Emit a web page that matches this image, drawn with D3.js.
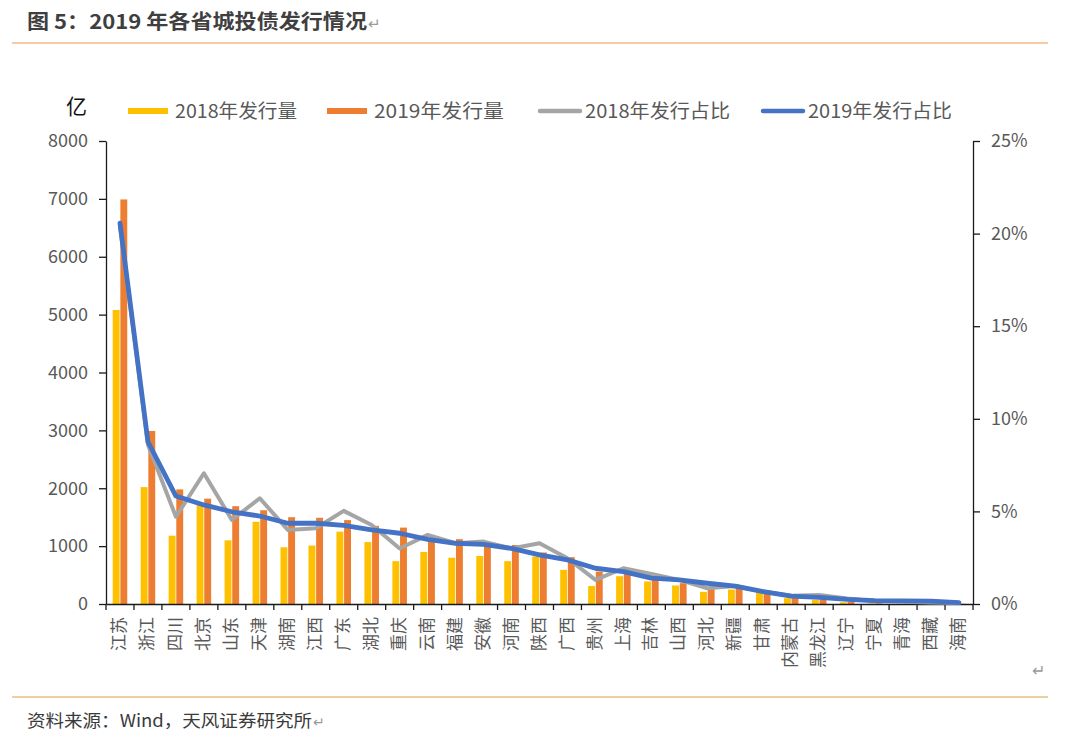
<!DOCTYPE html>
<html>
<head>
<meta charset="utf-8">
<script src="https://cdn.jsdelivr.net/npm/d3@7"></script>
<style>
  html, body { margin: 0; padding: 0; background: #fff; }
  svg { display: block; }
  text { font-family: "Noto Sans CJK SC", "Noto Sans", sans-serif; }
</style>
</head>
<body>
<svg id="chart" width="1080" height="743"></svg>
<script>
const categories = ["江苏","浙江","四川","北京","山东","天津","湖南","江西","广东","湖北","重庆","云南","福建","安徽","河南","陕西","广西","贵州","上海","吉林","山西","河北","新疆","甘肃","内蒙古","黑龙江","辽宁","宁夏","青海","西藏","海南"];
const issue2018 = [5080, 2020, 1180, 1710, 1100, 1420, 980, 1010, 1250, 1070, 740, 900, 800, 830, 740, 820, 590, 310, 480, 390, 320, 210, 250, 200, 100, 70, 30, 10, 5, 3, 2];
const issue2019 = [6990, 2990, 1980, 1820, 1690, 1620, 1500, 1490, 1450, 1350, 1320, 1110, 1120, 1030, 1020, 890, 810, 560, 530, 420, 360, 270, 300, 190, 115, 75, 40, 15, 10, 5, 3];
const share2018 = [20.4, 8.6, 4.71, 7.06, 4.54, 5.71, 4.0, 4.09, 5.03, 4.27, 3.0, 3.73, 3.28, 3.37, 3.0, 3.28, 2.47, 1.30, 1.93, 1.62, 1.30, 0.85, 0.97, 0.67, 0.45, 0.49, 0.30, 0.15, 0.12, 0.08, 0.05];
const share2019 = [20.56, 8.76, 5.83, 5.35, 4.98, 4.75, 4.36, 4.36, 4.24, 4.0, 3.82, 3.49, 3.28, 3.22, 3.0, 2.65, 2.38, 1.93, 1.75, 1.40, 1.30, 1.12, 0.97, 0.67, 0.43, 0.36, 0.25, 0.18, 0.17, 0.15, 0.07];
const leftTicks = [0, 1000, 2000, 3000, 4000, 5000, 6000, 7000, 8000];
const rightTicks = [0, 5, 10, 15, 20, 25];
const seriesNames = ["2018年发行量", "2019年发行量", "2018年发行占比", "2019年发行占比"];

const colors = { y18: "#FFC000", y19: "#ED7D31", s18: "#A5A5A5", s19: "#4472C4" };
const textGray = "#595959";

const svg = d3.select("#chart");
const L = 106, R = 973, T = 141, B = 604;

// Header
svg.append("text").attr("x", 27).attr("y", 29)
  .attr("font-size", 20).attr("font-weight", "bold").attr("fill", "#3f3f3f")
  .attr("textLength", 340).attr("lengthAdjust", "spacingAndGlyphs")
  .text("图 5：2019 年各省城投债发行情况");
svg.append("text").attr("x", 368).attr("y", 29).attr("font-size", 15).attr("fill", "#9a9a9a").text("↵");
svg.append("line").attr("x1", 12).attr("x2", 1048).attr("y1", 43).attr("y2", 43)
  .attr("stroke", "#F7CBA3").attr("stroke-width", 2);

// Footer
svg.append("line").attr("x1", 12).attr("x2", 1048).attr("y1", 697).attr("y2", 697)
  .attr("stroke", "#E8BF86").attr("stroke-width", 1.5);
svg.append("text").attr("x", 27).attr("y", 727).attr("font-size", 17).attr("fill", "#3a3a3a")
  .attr("textLength", 285).attr("lengthAdjust", "spacingAndGlyphs")
  .text("资料来源：Wind，天风证券研究所");
svg.append("text").attr("x", 313).attr("y", 727).attr("font-size", 14).attr("fill", "#9a9a9a").text("↵");
svg.append("text").attr("x", 1032).attr("y", 676).attr("font-size", 16).attr("fill", "#9a9a9a").text("↵");

// Scales
const x = d3.scaleBand().domain(categories).range([L, R]).padding(0);
const x1 = d3.scaleBand().domain(["2018", "2019"])
  .range([x.bandwidth() * 0.24, x.bandwidth() * 0.76]).paddingInner(0.1);
const yL = d3.scaleLinear().domain([0, 8000]).range([B, T]);
const yR = d3.scaleLinear().domain([0, 25]).range([B, T]);

// Bars
const g = svg.append("g");
categories.forEach((c, i) => {
  g.append("rect").attr("x", x(c) + x1("2018")).attr("width", x1.bandwidth())
    .attr("y", yL(issue2018[i])).attr("height", B - yL(issue2018[i])).attr("fill", colors.y18);
  g.append("rect").attr("x", x(c) + x1("2019")).attr("width", x1.bandwidth())
    .attr("y", yL(issue2019[i])).attr("height", B - yL(issue2019[i])).attr("fill", colors.y19);
});

// Left axis
const axL = svg.append("g").attr("transform", `translate(${L},0)`)
  .call(d3.axisLeft(yL).tickValues(leftTicks).tickSize(7).tickPadding(11).tickSizeOuter(0)
    .tickFormat(d3.format("d")));
axL.selectAll("text").attr("font-size", 18).attr("fill", textGray)
  .style("font-family", "'Noto Sans CJK SC', sans-serif");
axL.selectAll("line, path").attr("stroke", "#1a1a1a").attr("stroke-width", 1.3);

// Right axis
const axR = svg.append("g").attr("transform", `translate(${R},0)`)
  .call(d3.axisRight(yR).tickValues(rightTicks).tickSize(7).tickPadding(11).tickSizeOuter(0)
    .tickFormat(d => d + "%"));
axR.selectAll("text").attr("font-size", 18).attr("fill", textGray)
  .style("font-family", "'Noto Sans CJK SC', sans-serif");
axR.selectAll("line, path").attr("stroke", "#1a1a1a").attr("stroke-width", 1.3);

// X axis
const axX = svg.append("g").attr("transform", `translate(0,${B})`)
  .call(d3.axisBottom(x).tickSize(0).tickSizeOuter(0).tickFormat(""));
axX.select("path").attr("stroke", "#1a1a1a").attr("stroke-width", 1.3);
const boundaries = categories.map(c => x(c)).concat([x.range()[1]]);
axX.selectAll("line.bound").data(boundaries).enter().append("line")
  .attr("class", "bound").attr("x1", d => d).attr("x2", d => d)
  .attr("y1", 0).attr("y2", 6).attr("stroke", "#1a1a1a").attr("stroke-width", 1.3);
axX.selectAll("text.cat").data(categories).enter().append("text")
  .attr("class", "cat")
  .attr("transform", d => `translate(${x(d) + x.bandwidth() / 2 - 1},13) rotate(-90)`)
  .attr("text-anchor", "end").attr("dy", "0.36em")
  .attr("font-size", 17).attr("fill", textGray)
  .text(d => d);

// Lines
const lineGen = d3.line()
  .x((d, i) => x(categories[i]) + x.bandwidth() / 2)
  .y(d => yR(d));
svg.append("path").datum(share2018).attr("d", lineGen)
  .attr("fill", "none").attr("stroke", colors.s18).attr("stroke-width", 4)
  .attr("stroke-linejoin", "round").attr("stroke-linecap", "round");
svg.append("path").datum(share2019).attr("d", lineGen)
  .attr("fill", "none").attr("stroke", colors.s19).attr("stroke-width", 4.8)
  .attr("stroke-linejoin", "round").attr("stroke-linecap", "round");

// Unit + legend
svg.append("text").attr("x", 66).attr("y", 114).attr("font-size", 21).attr("fill", "#111").text("亿");
const legendItems = [
  { name: seriesNames[0], color: colors.y18, x: 128, w: 122, type: "bar" },
  { name: seriesNames[1], color: colors.y19, x: 327, w: 130, type: "bar" },
  { name: seriesNames[2], color: colors.s18, x: 538, w: 145, type: "line" },
  { name: seriesNames[3], color: colors.s19, x: 761, w: 144, type: "line" }
];
const lg = svg.append("g");
legendItems.forEach(it => {
  if (it.type === "bar") {
    lg.append("rect").attr("x", it.x).attr("y", 108).attr("width", 40).attr("height", 6).attr("fill", it.color);
  } else {
    lg.append("line").attr("x1", it.x + 2).attr("x2", it.x + 42).attr("y1", 111).attr("y2", 111)
      .attr("stroke", it.color).attr("stroke-width", 4.5).attr("stroke-linecap", "round");
  }
  lg.append("text").attr("x", it.x + 47).attr("y", 118).attr("font-size", 19).attr("fill", textGray)
    .attr("textLength", it.w).attr("lengthAdjust", "spacingAndGlyphs").text(it.name);
});
</script>
</body>
</html>
